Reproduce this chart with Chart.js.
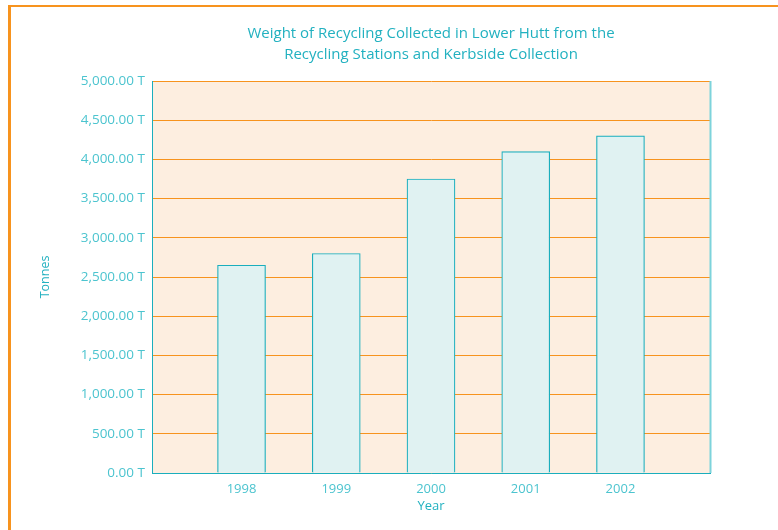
<!DOCTYPE html>
<html>
<head>
<meta charset="utf-8">
<script src="https://cdn.jsdelivr.net/npm/chart.js@4/dist/chart.umd.min.js"></script>
<style>
  html, body { margin: 0; padding: 0; background: #ffffff; }
  #wrap { position: relative; width: 778px; height: 530px; overflow: hidden; }
  #frame { position: absolute; left: 8px; top: 5px; width: 800px; height: 560px;
           border-top: 2.5px solid #f7931e; border-left: 3px solid #f7931e; box-sizing: border-box; }
  canvas { position: absolute; left: 0; top: 0; }
</style>
</head>
<body>
<div id="wrap">
  <div id="frame"></div>
  <canvas id="c" width="778" height="530"></canvas>
</div>
<script>
const categories = ['1998', '1999', '2000', '2001', '2002'];
const tonnes = [2650, 2800, 3750, 4100, 4300];
const yTicks = [0, 500, 1000, 1500, 2000, 2500, 3000, 3500, 4000, 4500, 5000];
const titleLines = ['Weight of Recycling Collected in Lower Hutt from the', 'Recycling Stations and Kerbside Collection'];

const teal = '#4cc4cf';
const tealDark = '#1aaebd';
const orange = '#f7931e';

const areaPlugin = {
  id: 'areaPlugin',
  beforeDraw(chart) {
    const a = chart.chartArea, ctx = chart.ctx;
    ctx.save();
    ctx.fillStyle = '#fdeee0';
    ctx.fillRect(a.left, a.top, a.right - a.left, a.bottom - a.top);
    ctx.restore();
  },
  afterDraw(chart) {
    const a = chart.chartArea, ctx = chart.ctx;
    ctx.save();
    ctx.strokeStyle = '#7dd3db';
    ctx.lineWidth = 2;
    ctx.beginPath();
    ctx.moveTo(a.right + 0.5, a.top);
    ctx.lineTo(a.right + 0.5, a.bottom);
    ctx.stroke();
    ctx.restore();
  }
};

const xVals = categories.map(Number);

new Chart(document.getElementById('c'), {
  type: 'bar',
  data: {
    datasets: [{
      data: xVals.map((x, i) => ({ x: x, y: tonnes[i] })),
      backgroundColor: '#e0f2f2',
      borderColor: tealDark,
      borderWidth: 1.2,
      barThickness: 48
    }]
  },
  plugins: [areaPlugin],
  options: {
    responsive: false,
    animation: false,
    devicePixelRatio: 1,
    layout: { padding: { left: 0, right: 68, top: 0, bottom: 0 } },
    plugins: {
      legend: { display: false },
      tooltip: { enabled: false },
      title: {
        display: true,
        fullSize: false,
        text: titleLines,
        color: '#22b1c0',
        font: { family: 'Open Sans', size: 15, weight: 'normal', lineHeight: 1.4 },
        padding: { top: 23, bottom: 16 }
      }
    },
    scales: {
      x: {
        type: 'linear',
        offset: false,
        min: xVals[0] - 0.945,
        max: xVals[xVals.length - 1] + 0.945,
        afterBuildTicks(scale) { scale.ticks = xVals.map(v => ({ value: v })); },
        afterFit(scale) { scale.height = 57; },
        grid: { display: false, drawTicks: false },
        border: { display: true, color: tealDark, width: 1 },
        ticks: {
          color: teal,
          font: { family: 'Open Sans', size: 13 },
          padding: 8,
          callback: (v) => String(v)
        },
        title: {
          display: true, text: 'Year', color: '#22b1c0',
          font: { family: 'Open Sans', size: 13 },
          padding: { top: 0, bottom: 16 }
        }
      },
      y: {
        min: 0, max: 5000,
        afterBuildTicks(scale) { scale.ticks = yTicks.map(v => ({ value: v })); },
        afterFit(scale) { scale.width = 152; },
        grid: { color: orange, lineWidth: 1, drawTicks: false },
        border: { display: true, color: tealDark, width: 1 },
        ticks: {
          color: teal,
          font: { family: 'Open Sans', size: 13.5 },
          padding: 7,
          callback: (v) => v.toLocaleString('en-US', { minimumFractionDigits: 2, maximumFractionDigits: 2 }) + ' T'
        },
        title: {
          display: true, text: 'Tonnes', color: '#22b1c0',
          font: { family: 'Open Sans', size: 12.5 },
          padding: { top: 38, bottom: 0 }
        }
      }
    }
  }
});
</script>
</body>
</html>
